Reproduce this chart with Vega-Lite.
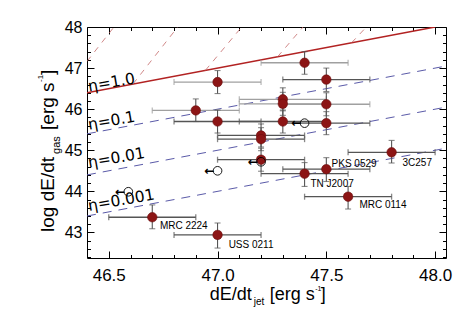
{
  "$schema": "https://vega.github.io/schema/vega-lite/v6.json",
  "width": 359,
  "height": 231,
  "autosize": "none",
  "padding": {"left": 87, "top": 27, "right": 26, "bottom": 56},
  "background": "white",
  "config": {"view": {"stroke": "black", "strokeWidth": 1}, "font": "Liberation Sans"},
  "datasets": {
    "eta": [
      {"eta": "1.0", "x": 46.4, "y": 46.4}, {"eta": "1.0", "x": 48.0, "y": 48.0},
      {"eta": "0.1", "x": 46.4, "y": 45.4}, {"eta": "0.1", "x": 48.05, "y": 47.05},
      {"eta": "0.01", "x": 46.4, "y": 44.4}, {"eta": "0.01", "x": 48.05, "y": 46.05},
      {"eta": "0.001", "x": 46.4, "y": 43.4}, {"eta": "0.001", "x": 48.05, "y": 45.05}
    ],
    "steep": [
      {"id": "A", "x": 46.4, "y": 47.163}, {"id": "A", "x": 46.524, "y": 48.0},
      {"id": "B", "x": 46.611, "y": 46.611}, {"id": "B", "x": 46.817, "y": 48.0},
      {"id": "C", "x": 46.944, "y": 46.944}, {"id": "C", "x": 47.111, "y": 48.0},
      {"id": "D", "x": 47.276, "y": 47.276}, {"id": "D", "x": 47.393, "y": 48.0},
      {"id": "E", "x": 47.616, "y": 47.616}, {"id": "E", "x": 47.684, "y": 48.0}
    ],
    "etalabels": [
      {"text": "η=1.0", "x": 46.409, "y": 46.43},
      {"text": "η=0.1", "x": 46.409, "y": 45.5},
      {"text": "η=0.01", "x": 46.409, "y": 44.573},
      {"text": "η=0.001", "x": 46.409, "y": 43.524}
    ],
    "pts": [
      {"x": 47.0, "y": 46.66, "xlo": 46.8, "xhi": 47.2, "ylo": 46.38, "yhi": 46.94, "grp": "a"},
      {"x": 47.4, "y": 47.13, "xlo": 47.2, "xhi": 47.6, "ylo": 46.85, "yhi": 47.4, "grp": "a"},
      {"x": 47.5, "y": 46.72, "xlo": 47.3, "xhi": 47.7, "ylo": 46.43, "yhi": 47.0, "grp": "b"},
      {"x": 46.9, "y": 45.97, "xlo": 46.7, "xhi": 47.1, "ylo": 45.7, "yhi": 46.25, "grp": "a"},
      {"x": 47.0, "y": 45.7, "xlo": 46.8, "xhi": 47.2, "ylo": 45.42, "yhi": 45.98, "grp": "b"},
      {"x": 47.3, "y": 46.24, "xlo": 47.1, "xhi": 47.5, "ylo": 45.96, "yhi": 46.52, "grp": "a"},
      {"x": 47.3, "y": 46.13, "xlo": 47.1, "xhi": 47.5, "ylo": 45.85, "yhi": 46.41, "grp": "a"},
      {"x": 47.5, "y": 46.12, "xlo": 47.3, "xhi": 47.7, "ylo": 45.84, "yhi": 46.4, "grp": "a"},
      {"x": 47.3, "y": 45.7, "xlo": 47.1, "xhi": 47.5, "ylo": 45.42, "yhi": 45.98, "grp": "b"},
      {"x": 47.5, "y": 45.66, "xlo": 47.3, "xhi": 47.7, "ylo": 45.38, "yhi": 45.94, "grp": "b"},
      {"x": 47.2, "y": 45.36, "xlo": 47.0, "xhi": 47.4, "ylo": 45.08, "yhi": 45.64, "grp": "b"},
      {"x": 47.2, "y": 45.27, "xlo": 47.0, "xhi": 47.4, "ylo": 44.99, "yhi": 45.55, "grp": "b"},
      {"x": 47.2, "y": 44.77, "xlo": 47.0, "xhi": 47.4, "ylo": 44.49, "yhi": 45.05, "grp": "b"},
      {"x": 47.5, "y": 44.54, "xlo": 47.3, "xhi": 47.7, "ylo": 44.24, "yhi": 44.82, "grp": "b", "name": "PKS 0529"},
      {"x": 47.4, "y": 44.43, "xlo": 47.2, "xhi": 47.6, "ylo": 44.12, "yhi": 44.7, "grp": "b", "name": "TN J2007"},
      {"x": 47.8, "y": 44.95, "xlo": 47.6, "xhi": 48.0, "ylo": 44.69, "yhi": 45.24, "grp": "b", "name": "3C257"},
      {"x": 47.6, "y": 43.87, "xlo": 47.4, "xhi": 47.8, "ylo": 43.57, "yhi": 44.12, "grp": "b", "name": "MRC 0114"},
      {"x": 46.7, "y": 43.37, "xlo": 46.5, "xhi": 46.9, "ylo": 43.09, "yhi": 43.67, "grp": "b", "name": "MRC 2224"},
      {"x": 47.0, "y": 42.94, "xlo": 46.8, "xhi": 47.2, "ylo": 42.62, "yhi": 43.23, "grp": "b", "name": "USS 0211"}
    ],
    "names": [
      {"name": "PKS 0529", "x": 47.524, "y": 44.67},
      {"name": "TN J2007", "x": 47.427, "y": 44.18},
      {"name": "3C257", "x": 47.85, "y": 44.7},
      {"name": "MRC 0114", "x": 47.652, "y": 43.67},
      {"name": "MRC 2224", "x": 46.735, "y": 43.16},
      {"name": "USS 0211", "x": 47.051, "y": 42.7}
    ],
    "limits": [
      {"x": 47.4, "y": 45.66},
      {"x": 47.2, "y": 44.72},
      {"x": 47.0, "y": 44.5},
      {"x": 46.59, "y": 43.99}
    ]
  },
  "resolve": {"axis": {"x": "independent", "y": "independent"}},
  "layer": [
    {
      "data": {"name": "eta"},
      "transform": [{"filter": "datum.eta == '1.0'"}],
      "mark": {"type": "line", "color": "#b22222", "strokeWidth": 1.5, "clip": true},
      "encoding": {
        "x": {"field": "x", "type": "quantitative", "scale": {"domain": [46.4, 48.05], "nice": false, "zero": false},
          "axis": {"orient": "bottom", "title": null, "grid": false, "domain": false,
            "values": [46.5, 46.6, 46.7, 46.8, 46.9, 47.0, 47.1, 47.2, 47.3, 47.4, 47.5, 47.6, 47.7, 47.8, 47.9, 48.0],
            "tickColor": "black", "tickWidth": 1,
            "tickSize": {"condition": {"test": "abs(datum.value*2 - round(datum.value*2)) < 0.001", "value": -7}, "value": -3.5},
            "labelExpr": "abs(datum.value*2 - round(datum.value*2)) < 0.001 ? format(datum.value, '.1f') : ''",
            "labelFontSize": 17, "labelColor": "black", "labelPadding": 16, "labelOverlap": false, "labelFlush": false, "labelFont": "Liberation Sans"}},
        "y": {"field": "y", "type": "quantitative", "scale": {"domain": [42.378, 48], "nice": false, "zero": false},
          "axis": {"orient": "left", "title": null, "grid": false, "domain": false,
            "values": [42.4, 42.6, 42.8, 43, 43.2, 43.4, 43.6, 43.8, 44, 44.2, 44.4, 44.6, 44.8, 45, 45.2, 45.4, 45.6, 45.8, 46, 46.2, 46.4, 46.6, 46.8, 47, 47.2, 47.4, 47.6, 47.8, 48],
            "tickColor": "black", "tickWidth": 1,
            "tickSize": {"condition": {"test": "abs(datum.value - round(datum.value)) < 0.001", "value": -7}, "value": -3.5},
            "labelExpr": "abs(datum.value - round(datum.value)) < 0.001 ? format(datum.value, 'd') : ''",
            "labelFontSize": 16, "labelColor": "black", "labelPadding": 12, "labelOverlap": false, "labelFlush": false, "labelFont": "Liberation Sans"}}
      }
    },
    {
      "data": {"name": "eta"},
      "transform": [{"filter": "datum.eta != '1.0'"}],
      "mark": {"type": "line", "color": "#5a5aa8", "strokeWidth": 1, "strokeDash": [9, 7], "clip": true},
      "encoding": {
        "x": {"field": "x", "type": "quantitative", "scale": {"domain": [46.4, 48.05], "nice": false, "zero": false},
          "axis": {"orient": "top", "title": null, "grid": false, "domain": false, "labels": false,
            "values": [46.5, 46.6, 46.7, 46.8, 46.9, 47.0, 47.1, 47.2, 47.3, 47.4, 47.5, 47.6, 47.7, 47.8, 47.9, 48.0],
            "tickColor": "black", "tickWidth": 1,
            "tickSize": {"condition": {"test": "abs(datum.value*2 - round(datum.value*2)) < 0.001", "value": -7}, "value": -3.5}}},
        "y": {"field": "y", "type": "quantitative", "scale": {"domain": [42.378, 48], "nice": false, "zero": false},
          "axis": {"orient": "right", "title": null, "grid": false, "domain": false, "labels": false,
            "values": [42.4, 42.6, 42.8, 43, 43.2, 43.4, 43.6, 43.8, 44, 44.2, 44.4, 44.6, 44.8, 45, 45.2, 45.4, 45.6, 45.8, 46, 46.2, 46.4, 46.6, 46.8, 47, 47.2, 47.4, 47.6, 47.8, 48],
            "tickColor": "black", "tickWidth": 1,
            "tickSize": {"condition": {"test": "abs(datum.value - round(datum.value)) < 0.001", "value": -7}, "value": -3.5}}},
        "detail": {"field": "eta"}
      }
    },
    {
      "data": {"name": "steep"},
      "mark": {"type": "line", "color": "#c46a6a", "strokeWidth": 0.8, "strokeDash": [6, 6], "clip": true},
      "encoding": {
        "x": {"field": "x", "type": "quantitative", "scale": {"domain": [46.4, 48.05], "nice": false, "zero": false}, "axis": null},
        "y": {"field": "y", "type": "quantitative", "scale": {"domain": [42.378, 48], "nice": false, "zero": false}, "axis": null},
        "detail": {"field": "id"}
      }
    },
    {
      "data": {"name": "etalabels"},
      "mark": {"type": "text", "align": "left", "baseline": "alphabetic", "angle": -10, "fontSize": 15.5, "font": "DejaVu Sans", "color": "black"},
      "encoding": {
        "x": {"field": "x", "type": "quantitative", "scale": {"domain": [46.4, 48.05], "nice": false, "zero": false}, "axis": null},
        "y": {"field": "y", "type": "quantitative", "scale": {"domain": [42.378, 48], "nice": false, "zero": false}, "axis": null},
        "text": {"field": "text"}
      }
    },
    {
      "data": {"name": "pts"},
      "mark": {"type": "errorbar", "ticks": {"size": 6}, "thickness": 1.3},
      "encoding": {
        "x": {"field": "xlo", "type": "quantitative", "scale": {"domain": [46.4, 48.05], "nice": false, "zero": false}, "axis": null},
        "x2": {"field": "xhi"},
        "y": {"field": "y", "type": "quantitative", "scale": {"domain": [42.378, 48], "nice": false, "zero": false}, "axis": null},
        "color": {"field": "grp", "type": "nominal", "scale": {"domain": ["a", "b"], "range": ["#a0a0a0", "#555555"]}, "legend": null}
      }
    },
    {
      "data": {"name": "pts"},
      "mark": {"type": "errorbar", "ticks": {"size": 6}, "thickness": 1.1, "color": "#555555"},
      "encoding": {
        "y": {"field": "ylo", "type": "quantitative", "scale": {"domain": [42.378, 48], "nice": false, "zero": false}, "axis": null},
        "y2": {"field": "yhi"},
        "x": {"field": "x", "type": "quantitative", "scale": {"domain": [46.4, 48.05], "nice": false, "zero": false}, "axis": null}
      }
    },
    {
      "data": {"name": "pts"},
      "mark": {"type": "point", "shape": "circle", "filled": true, "size": 90, "color": "#8c1515", "stroke": "#6a0c0c", "strokeWidth": 0.6, "opacity": 1},
      "encoding": {
        "x": {"field": "x", "type": "quantitative", "scale": {"domain": [46.4, 48.05], "nice": false, "zero": false}, "axis": null},
        "y": {"field": "y", "type": "quantitative", "scale": {"domain": [42.378, 48], "nice": false, "zero": false}, "axis": null}
      }
    },
    {
      "data": {"name": "limits"},
      "mark": {"type": "point", "shape": "circle", "filled": false, "size": 75, "color": "black", "strokeWidth": 0.9, "opacity": 1},
      "encoding": {
        "x": {"field": "x", "type": "quantitative", "scale": {"domain": [46.4, 48.05], "nice": false, "zero": false}, "axis": null},
        "y": {"field": "y", "type": "quantitative", "scale": {"domain": [42.378, 48], "nice": false, "zero": false}, "axis": null}
      }
    },
    {
      "data": {"name": "limits"},
      "mark": {"type": "text", "text": "←", "align": "right", "baseline": "middle", "dx": -3, "dy": 0, "fontSize": 12, "fontWeight": "bold", "font": "DejaVu Sans", "color": "black"},
      "encoding": {
        "x": {"field": "x", "type": "quantitative", "scale": {"domain": [46.4, 48.05], "nice": false, "zero": false}, "axis": null},
        "y": {"field": "y", "type": "quantitative", "scale": {"domain": [42.378, 48], "nice": false, "zero": false}, "axis": null}
      }
    },
    {
      "data": {"name": "names"},
      "mark": {"type": "text", "align": "left", "baseline": "middle", "fontSize": 10, "font": "Liberation Sans", "color": "black"},
      "encoding": {
        "x": {"field": "x", "type": "quantitative", "scale": {"domain": [46.4, 48.05], "nice": false, "zero": false}, "axis": null},
        "y": {"field": "y", "type": "quantitative", "scale": {"domain": [42.378, 48], "nice": false, "zero": false}, "axis": null},
        "text": {"field": "name"}
      }
    },
    {
      "data": {"values": [
        {"t": "dE/dt", "p": "main"},
        {"t": "jet", "p": "sub"},
        {"t": "[erg s", "p": "main2"},
        {"t": "-1", "p": "sup"},
        {"t": "]", "p": "end"}
      ]},
      "layer": [
        {"transform": [{"filter": "datum.p == 'main'"}], "mark": {"type": "text", "align": "right", "baseline": "alphabetic", "fontSize": 18, "color": "black"}},
        {"transform": [{"filter": "datum.p == 'sub'"}], "mark": {"type": "text", "align": "left", "baseline": "alphabetic", "fontSize": 10, "dx": 2, "dy": 5, "color": "black"}},
        {"transform": [{"filter": "datum.p == 'main2'"}], "mark": {"type": "text", "align": "left", "baseline": "alphabetic", "fontSize": 18, "dx": 18, "color": "black"}},
        {"transform": [{"filter": "datum.p == 'sup'"}], "mark": {"type": "text", "align": "left", "baseline": "alphabetic", "fontSize": 7, "dx": 63.5, "dy": -9, "color": "black"}},
        {"transform": [{"filter": "datum.p == 'end'"}], "mark": {"type": "text", "align": "left", "baseline": "alphabetic", "fontSize": 18, "dx": 69, "color": "black"}}
      ],
      "encoding": {
        "x": {"datum": 47.157, "type": "quantitative", "scale": {"domain": [46.4, 48.05], "nice": false, "zero": false}, "axis": null},
        "y": {"datum": 41.354, "type": "quantitative", "scale": {"domain": [42.378, 48], "nice": false, "zero": false}, "axis": null},
        "text": {"field": "t"}
      }
    },
    {
      "data": {"values": [
        {"t": "log dE/dt", "p": "main"},
        {"t": "gas", "p": "sub"},
        {"t": "[erg s", "p": "main2"},
        {"t": "-1", "p": "sup"},
        {"t": "]", "p": "end"}
      ]},
      "layer": [
        {"transform": [{"filter": "datum.p == 'main'"}], "mark": {"type": "text", "align": "left", "baseline": "alphabetic", "angle": 270, "fontSize": 19, "color": "black"}},
        {"transform": [{"filter": "datum.p == 'sub'"}], "mark": {"type": "text", "align": "left", "baseline": "alphabetic", "angle": 270, "fontSize": 11, "dx": 78, "dy": 6, "color": "black"}},
        {"transform": [{"filter": "datum.p == 'main2'"}], "mark": {"type": "text", "align": "left", "baseline": "alphabetic", "angle": 270, "fontSize": 19, "dx": 102, "color": "black"}},
        {"transform": [{"filter": "datum.p == 'sup'"}], "mark": {"type": "text", "align": "left", "baseline": "alphabetic", "angle": 270, "fontSize": 8, "dx": 150, "dy": -11, "color": "black"}},
        {"transform": [{"filter": "datum.p == 'end'"}], "mark": {"type": "text", "align": "left", "baseline": "alphabetic", "angle": 270, "fontSize": 19, "dx": 157, "color": "black"}}
      ],
      "encoding": {
        "x": {"datum": 46.2486, "type": "quantitative", "scale": {"domain": [46.4, 48.05], "nice": false, "zero": false}, "axis": null},
        "y": {"datum": 43.012, "type": "quantitative", "scale": {"domain": [42.378, 48], "nice": false, "zero": false}, "axis": null},
        "text": {"field": "t"}
      }
    }
  ]
}
